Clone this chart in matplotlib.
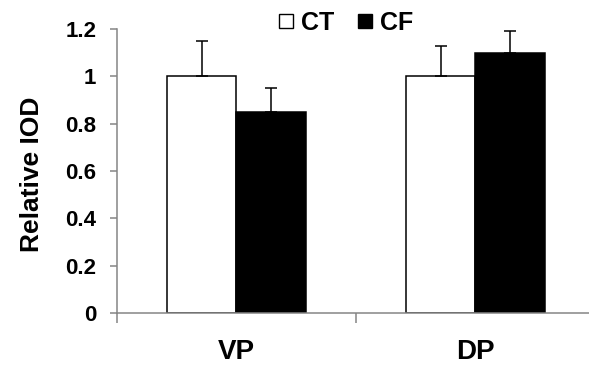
"""Relative IOD bar chart, CT vs CF."""

import matplotlib
matplotlib.use('Agg')
import matplotlib.pyplot as plt
import numpy as np
from matplotlib.lines import Line2D
from matplotlib.ticker import FixedLocator, FormatStrFormatter

categories = ['VP', 'DP']
ct_vals = [1.0, 1.0]
ct_err = [0.15, 0.13]
cf_vals = [0.85, 1.10]
cf_err = [0.10, 0.09]

plt.rcParams['font.family'] = ['Liberation Sans', 'DejaVu Sans']
plt.rcParams['font.weight'] = 'bold'

fig = plt.figure(figsize=(5.89, 3.67), dpi=100)
ax = fig.add_axes([117/589, 54/367, 472/589, 284/367])

x = np.arange(len(categories))
w = 0.29
ekw = dict(ecolor='k', elinewidth=1.1, capsize=4.3, capthick=1.1)

ax.bar(x - w/2, ct_vals, w, color='white', edgecolor='k', linewidth=1.1,
       yerr=[np.zeros(2), ct_err], error_kw=ekw, label='CT')
ax.bar(x + w/2, cf_vals, w, color='black', edgecolor='k', linewidth=1.1,
       yerr=[np.zeros(2), cf_err], error_kw=ekw, label='CF')

ax.set_xlim(-0.5, 1.475)
ax.set_ylim(0, 1.2)

for s in ['top', 'right']:
    ax.spines[s].set_visible(False)
for s in ['left', 'bottom']:
    ax.spines[s].set_color('#858585')
    ax.spines[s].set_linewidth(1.1)

ax.set_yticks(np.arange(0, 1.21, 0.2))
ax.yaxis.set_major_formatter(FormatStrFormatter('%g'))
ax.tick_params(axis='y', length=5, width=1.1, color='#858585',
               labelsize=16, pad=10)

# category boundary ticks, labels on minor ticks at centres
ax.xaxis.set_major_locator(FixedLocator([-0.5, 0.5, 1.5]))
ax.xaxis.set_major_formatter(plt.NullFormatter())
ax.xaxis.set_minor_locator(FixedLocator(x))
ax.set_xticklabels(categories, minor=True)
ax.tick_params(axis='x', which='major', length=7, width=1.1, color='#858585')
ax.tick_params(axis='x', which='minor', length=0, labelsize=20, pad=19)

ax.set_ylabel('Relative IOD', fontsize=19, fontweight='bold')
ax.yaxis.set_label_coords(-0.155, 0.49)

handles = [Line2D([], [], marker='s', ls='none', ms=9.5, mfc='white', mec='k', mew=1.0),
           Line2D([], [], marker='s', ls='none', ms=10.5, mfc='k', mec='k')]
fig.legend(handles, ['CT', 'CF'], loc='center', ncol=2,
           bbox_to_anchor=(345/589, 1 - 23/367), frameon=False,
           fontsize=18, handlelength=0.7, handletextpad=0.25,
           columnspacing=0.9, borderpad=0)

fig.savefig('out.png', dpi=100)
